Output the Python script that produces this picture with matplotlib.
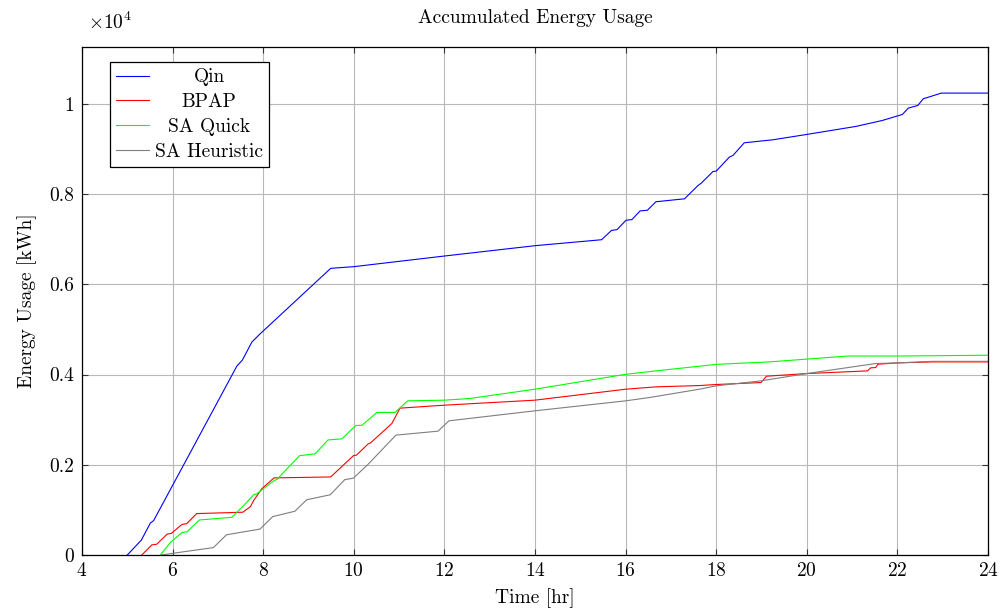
import numpy as np
import matplotlib
matplotlib.use("Agg")
import matplotlib.pyplot as plt

plt.rcParams['font.family'] = ['cmr10', 'DejaVu Serif']
plt.rcParams['mathtext.fontset'] = 'cm'
plt.rcParams['axes.formatter.use_mathtext'] = True

# data (hours, kWh)
qin_t = [5.0, 5.31, 5.51, 5.58, 7.42, 7.54, 7.75, 7.93, 9.49, 10.0, 12.0, 14.0, 15.47,
         15.69, 15.81, 16.01, 16.14, 16.32, 16.48, 16.67, 17.3, 17.6, 17.67, 17.93, 18.0,
         18.29, 18.37, 18.62, 19.25, 20.0, 21.08, 21.67, 22.11, 22.24, 22.45, 22.57, 22.97, 24.0]
qin_e = [0, 330, 710, 760, 4190, 4320, 4720, 4900, 6354, 6391, 6627, 6856, 6988,
         7195, 7212, 7420, 7435, 7627, 7641, 7830, 7895, 8191, 8242, 8501, 8508,
         8819, 8856, 9137, 9203, 9322, 9499, 9632, 9765, 9905, 9964, 10112, 10238, 10238]

bpap_t = [5.32, 5.54, 5.65, 5.88, 5.97, 6.21, 6.31, 6.53, 7.55, 7.72, 7.79, 7.97, 8.24,
          9.49, 9.99, 10.06, 10.32, 10.37, 10.84, 11.02, 12.0, 14.0, 16.0, 16.67, 17.63,
          18.0, 18.99, 19.11, 20.0, 21.34, 21.41, 21.52, 21.57, 22.0, 22.77, 24.0]
bpap_e = [0, 224, 239, 463, 478, 679, 694, 918, 948, 1075, 1209, 1470, 1709,
          1730, 2200, 2215, 2465, 2485, 2915, 3255, 3321, 3432, 3675, 3727, 3756,
          3779, 3823, 3963, 4022, 4081, 4148, 4155, 4229, 4258, 4280, 4280]

quick_t = [5.73, 5.95, 6.21, 6.32, 6.59, 7.31, 7.57, 7.79, 7.86, 8.25, 8.30, 8.80, 9.15,
           9.43, 9.74, 10.04, 10.18, 10.51, 10.91, 11.19, 12.0, 12.56, 14.0, 16.0, 16.67,
           17.63, 18.0, 19.17, 20.0, 20.9, 22.0, 24.0]
quick_e = [0, 276, 500, 515, 776, 836, 1097, 1336, 1358, 1657, 1672, 2200, 2245,
           2550, 2575, 2870, 2875, 3160, 3160, 3417, 3432, 3469, 3675, 4005, 4081,
           4185, 4226, 4280, 4342, 4410, 4410, 4428]

heur_t = [5.75, 6.0, 6.9, 7.19, 7.93, 8.21, 8.70, 8.96, 9.48, 9.80, 9.99, 10.32, 10.93,
          11.86, 12.1, 14.0, 16.0, 16.53, 17.63, 18.0, 18.99, 20.0, 21.52, 22.0, 22.77, 24.0]
heur_e = [0, 37, 164, 448, 575, 851, 970, 1225, 1335, 1670, 1703, 2015, 2657,
          2745, 2974, 3196, 3417, 3491, 3675, 3749, 3860, 4022, 4244, 4258, 4292, 4292]

names = ['Qin', 'BPAP', 'SA Quick', 'SA Heuristic']
colors = ['#0000ff', '#ff0000', '#00ff00', '#7f7f7f']
x_ticks = [4, 6, 8, 10, 12, 14, 16, 18, 20, 22, 24]
y_ticks = [0, 2000, 4000, 6000, 8000, 10000]
y_tick_labels = ['0', '0.2', '0.4', '0.6', '0.8', '1']

fs = 14

fig = plt.figure(figsize=(10.08, 6.09), dpi=100)
ax = fig.add_axes([82 / 1008, 1 - 555 / 609, 906 / 1008, 508 / 609])

series = [(qin_t, qin_e), (bpap_t, bpap_e), (quick_t, quick_e), (heur_t, heur_e)]
for (t, e), name, c in zip(series, names, colors):
    ax.plot(t, e, color=c, lw=0.8, label=name)

ax.set_xlim(4, 24)
ax.set_ylim(0, 11260)
ax.set_xticks(x_ticks)
ax.set_yticks(y_ticks)
ax.set_yticklabels(y_tick_labels)
ax.grid(True, color='#b8b8b8', lw=0.8)
ax.set_axisbelow(True)
ax.tick_params(direction='in', top=True, right=True, length=4.5, width=0.8,
               labelsize=fs, color='#333333')
ax.tick_params(axis='x', pad=5)
ax.tick_params(axis='y', pad=5.5)
for s in ax.spines.values():
    s.set_linewidth(0.9)

ax.set_title('Accumulated Energy Usage', fontsize=fs, pad=17)
ax.set_xlabel('Time [hr]', fontsize=fs)
ax.set_ylabel('Energy Usage [kWh]', fontsize=fs)
ax.xaxis.set_label_coords(0.5, -0.066)
ax.yaxis.set_label_coords(-0.050, 0.5)
ax.text(0.007, 1.049, r'$\times10^{4}$', transform=ax.transAxes, fontsize=fs,
        ha='left', va='center')

leg = ax.legend(loc='upper left', bbox_to_anchor=(0.031, 0.970), borderaxespad=0,
                fancybox=False, framealpha=1, edgecolor='black', fontsize=fs,
                handlelength=1.7, handletextpad=0.3, labelspacing=0.35,
                borderpad=0.32)
leg.get_frame().set_linewidth(0.9)

# centre the legend texts like pgfplots does
fig.canvas.draw()
r = fig.canvas.get_renderer()
texts = leg.get_texts()
widths = [t.get_window_extent(r).width for t in texts]
wmax = max(widths)
for t, w in zip(texts, widths):
    t.set_x((wmax - w) / 2)

fig.savefig('out.png', dpi=100)
